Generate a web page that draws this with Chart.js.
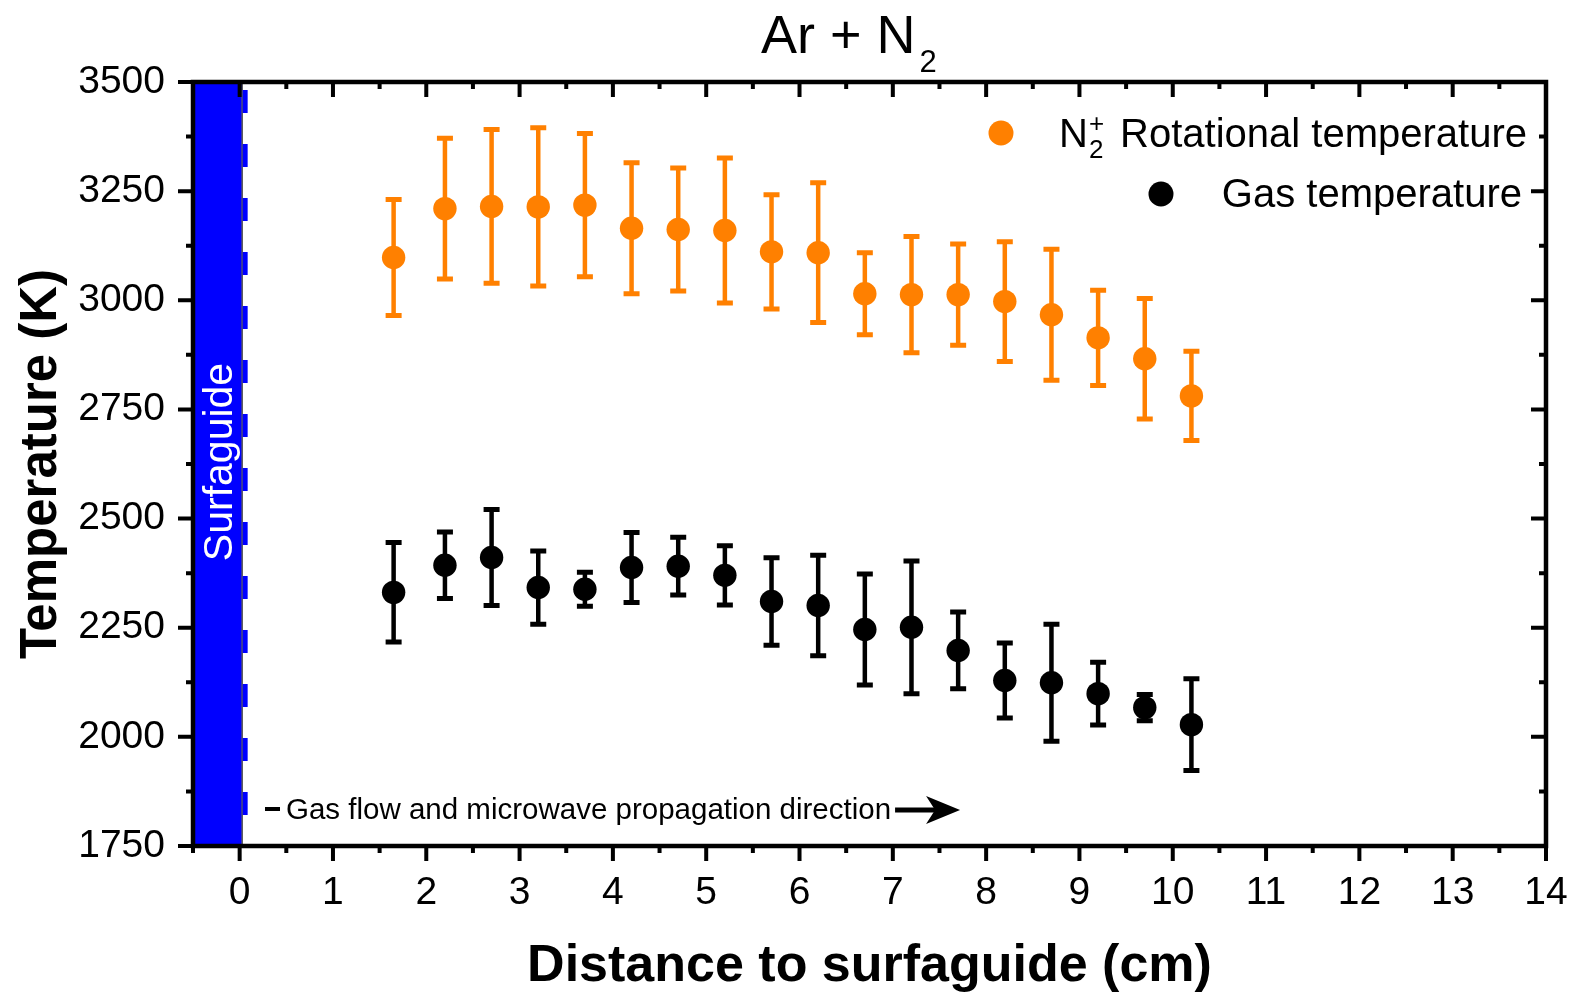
<!DOCTYPE html>
<html>
<head>
<meta charset="utf-8">
<title>Ar + N2</title>
<script src="https://cdn.jsdelivr.net/npm/chart.js@4.4.0/dist/chart.umd.min.js"></script>
<style>
  html, body { margin: 0; padding: 0; background: #fff; }
  #myChart { display: block; }
</style>
</head>
<body>
<canvas id="myChart" width="1575" height="993"></canvas>
<script>

// ---- data ----
var distance = [1.65, 2.2, 2.7, 3.2, 3.7, 4.2, 4.7, 5.2, 5.7, 6.2, 6.7, 7.2, 7.7, 8.2, 8.7, 9.2, 9.7, 10.2];
var rotTemp  = [3098, 3210, 3215, 3214, 3218, 3165, 3162, 3160, 3111, 3109, 3015, 3013, 3013, 2997, 2967, 2914, 2866, 2781];
var rotErr   = [133, 161, 176, 181, 164, 150, 141, 166, 131, 160, 94, 133, 116, 137, 150, 109, 138, 102];
var gasTemp  = [2331, 2393, 2411, 2342, 2338, 2388, 2391, 2370, 2310, 2301, 2246, 2251, 2198, 2129, 2124, 2099, 2067, 2028];
var gasErr   = [114, 76, 110, 84, 39, 80, 66, 68, 100, 115, 127, 152, 88, 86, 134, 72, 30, 105];

var xTickValues = [0, 1, 2, 3, 4, 5, 6, 7, 8, 9, 10, 11, 12, 13, 14];
var yTickValues = [1750, 2000, 2250, 2500, 2750, 3000, 3250, 3500];

var orange = '#ff8000';
var fontName = '"Liberation Sans", Arial, Helvetica, sans-serif';

function toPoints(ys) {
  return distance.map(function (d, i) { return { x: d, y: ys[i] }; });
}

// blue surfaguide block, error bars, frame, ticks and texts
var decorPlugin = {
  id: 'decor',
  beforeDatasetsDraw: function (chart) {
    var ctx = chart.ctx;
    var area = chart.chartArea;
    var xs = chart.scales.x;
    var ys = chart.scales.y;
    var x0 = xs.getPixelForValue(0);

    ctx.save();
    // surfaguide block
    ctx.fillStyle = '#0000ff';
    ctx.fillRect(area.left, area.top, x0 + 2 - area.left, area.bottom - area.top);
    ctx.strokeStyle = '#000';
    ctx.lineWidth = 1;
    ctx.beginPath();
    ctx.moveTo(x0 + 2.5, area.top);
    ctx.lineTo(x0 + 2.5, area.bottom);
    ctx.stroke();
    // dashed edge
    ctx.strokeStyle = '#0000ff';
    ctx.lineWidth = 5;
    ctx.setLineDash([23, 31]);
    ctx.beginPath();
    ctx.moveTo(x0 + 5.5, area.top + 8);
    ctx.lineTo(x0 + 5.5, area.bottom);
    ctx.stroke();
    ctx.setLineDash([]);

    // error bars
    var sets = [[rotTemp, rotErr, orange], [gasTemp, gasErr, '#000']];
    sets.forEach(function (s) {
      ctx.strokeStyle = s[2];
      for (var i = 0; i < distance.length; i++) {
        var px = xs.getPixelForValue(distance[i]);
        var top = ys.getPixelForValue(s[0][i] + s[1][i]);
        var bot = ys.getPixelForValue(s[0][i] - s[1][i]);
        ctx.lineWidth = 4.5;
        ctx.beginPath();
        ctx.moveTo(px, top);
        ctx.lineTo(px, bot);
        ctx.stroke();
        ctx.lineWidth = 5;
        ctx.beginPath();
        ctx.moveTo(px - 8, top);
        ctx.lineTo(px + 8, top);
        ctx.moveTo(px - 8, bot);
        ctx.lineTo(px + 8, bot);
        ctx.stroke();
      }
    });
    ctx.restore();
  },
  afterDraw: function (chart) {
    var ctx = chart.ctx;
    var area = chart.chartArea;
    var xs = chart.scales.x;
    var ys = chart.scales.y;
    ctx.save();

    // surfaguide label
    ctx.save();
    ctx.translate(232, 462);
    ctx.rotate(-Math.PI / 2);
    ctx.fillStyle = '#fff';
    ctx.font = '41px ' + fontName;
    ctx.textAlign = 'center';
    ctx.textBaseline = 'alphabetic';
    ctx.fillText('Surfaguide', 0, 0);
    ctx.restore();

    // frame
    ctx.strokeStyle = '#000';
    ctx.lineWidth = 4.5;
    ctx.strokeRect(area.left, area.top, area.right - area.left, area.bottom - area.top);

    // ticks: bottom/left outward, top/right inward
    ctx.lineWidth = 4;
    ctx.beginPath();
    for (var v = -0.5; v <= 14; v += 0.5) {
      var px = xs.getPixelForValue(v);
      var len = Number.isInteger(v) ? 15 : 7;
      ctx.moveTo(px, area.bottom);
      ctx.lineTo(px, area.bottom + len);
      ctx.moveTo(px, area.top);
      ctx.lineTo(px, area.top + len);
    }
    for (var t = 1750; t <= 3500; t += 125) {
      var py = ys.getPixelForValue(t);
      var ln = (t % 250 === 0) ? 15 : 7;
      ctx.moveTo(area.left, py);
      ctx.lineTo(area.left - ln, py);
      ctx.moveTo(area.right, py);
      ctx.lineTo(area.right - ln, py);
    }
    ctx.stroke();

    // title  Ar + N2
    ctx.fillStyle = '#000';
    ctx.textAlign = 'left';
    ctx.textBaseline = 'alphabetic';
    ctx.font = '54px ' + fontName;
    ctx.fillText('Ar + N', 761, 53);
    var w = ctx.measureText('Ar + N').width;
    ctx.font = '31px ' + fontName;
    ctx.fillText('2', 761 + w + 4, 72);

    // legend
    ctx.fillStyle = orange;
    ctx.beginPath();
    ctx.arc(1001, 133, 12.5, 0, Math.PI * 2);
    ctx.fill();
    ctx.fillStyle = '#000';
    ctx.beginPath();
    ctx.arc(1161, 194, 12.5, 0, Math.PI * 2);
    ctx.fill();

    ctx.font = '40px ' + fontName;
    ctx.textAlign = 'left';
    ctx.fillText('N', 1059, 147);
    var nw = ctx.measureText('N').width;
    ctx.font = '26px ' + fontName;
    ctx.fillText('2', 1059 + nw + 1, 158);
    ctx.fillText('+', 1059 + nw + 1, 132);
    ctx.font = '40px ' + fontName;
    ctx.textAlign = 'right';
    ctx.fillText('Rotational temperature', 1527, 147);
    ctx.fillText('Gas temperature', 1522, 207);

    // flow direction note
    ctx.lineWidth = 4;
    ctx.beginPath();
    ctx.moveTo(265, 809);
    ctx.lineTo(280, 809);
    ctx.stroke();
    ctx.textAlign = 'left';
    ctx.font = '29.5px ' + fontName;
    var note = 'Gas flow and microwave propagation direction';
    ctx.fillText(note, 286, 819);
    var ax = 286 + ctx.measureText(note).width + 4;
    ctx.lineWidth = 5;
    ctx.beginPath();
    ctx.moveTo(ax, 810);
    ctx.lineTo(ax + 40, 810);
    ctx.stroke();
    ctx.beginPath();
    ctx.moveTo(ax + 65, 810);
    ctx.lineTo(ax + 31, 796);
    ctx.lineTo(ax + 40, 810);
    ctx.lineTo(ax + 31, 824);
    ctx.closePath();
    ctx.fill();

    ctx.restore();
  }
};

var ctx = document.getElementById('myChart');

var chart = new Chart(ctx, {
  type: 'scatter',
  data: {
    datasets: [
      {
        label: 'N2+ Rotational temperature',
        data: toPoints(rotTemp),
        backgroundColor: orange,
        borderWidth: 0,
        pointRadius: 11.7,
        pointHoverRadius: 11.7
      },
      {
        label: 'Gas temperature',
        data: toPoints(gasTemp),
        backgroundColor: '#000',
        borderWidth: 0,
        pointRadius: 11.7,
        pointHoverRadius: 11.7
      }
    ]
  },
  options: {
    responsive: false,
    animation: false,
    devicePixelRatio: 1,
    layout: { padding: { left: 0, right: 29, top: 82, bottom: 0 } },
    plugins: {
      legend: { display: false },
      tooltip: { enabled: false }
    },
    scales: {
      x: {
        type: 'linear',
        min: -0.5,
        max: 14,
        afterFit: function (scale) {
          scale.height = 147;
          scale.paddingLeft = 0;
          scale.paddingRight = 0;
        },
        afterBuildTicks: function (scale) {
          scale.ticks = xTickValues.map(function (v) { return { value: v }; });
        },
        grid: { display: false, drawTicks: false },
        border: { display: false },
        ticks: {
          padding: 24,
          color: '#000',
          font: { family: fontName, size: 39 },
          callback: function (value) { return String(value); }
        },
        title: {
          display: true,
          text: 'Distance to surfaguide (cm)',
          color: '#000',
          font: { family: fontName, size: 52, weight: 'bold', lineHeight: 1 },
          padding: { top: 0, bottom: 0 }
        }
      },
      y: {
        type: 'linear',
        min: 1750,
        max: 3500,
        afterFit: function (scale) {
          scale.width = 193;
          scale.paddingTop = 0;
          scale.paddingBottom = 0;
        },
        afterBuildTicks: function (scale) {
          scale.ticks = yTickValues.map(function (v) { return { value: v }; });
        },
        grid: { display: false, drawTicks: false },
        border: { display: false },
        ticks: {
          padding: 28,
          color: '#000',
          font: { family: fontName, size: 39 },
          callback: function (value) { return String(value); }
        },
        title: {
          display: true,
          text: 'Temperature (K)',
          color: '#000',
          font: { family: fontName, size: 51, weight: 'bold', lineHeight: 1.2 },
          padding: { top: 11, bottom: 0 }
        }
      }
    }
  },
  plugins: [decorPlugin]
});

</script>
</body>
</html>
